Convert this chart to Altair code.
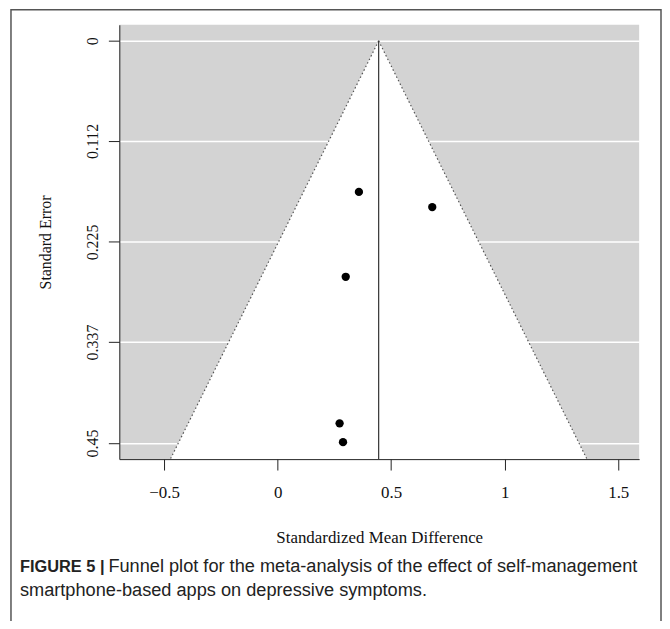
import altair as alt
import pandas as pd

# Study estimates
smd = [0.358, 0.681, 0.300, 0.273, 0.288]
se = [0.169, 0.186, 0.264, 0.428, 0.449]

pooled = 0.445          # pooled SMD (vertical line / funnel apex)
z = 1.96
se_edge = [0.0, 0.47]   # funnel drawn from apex to plot bottom

x_ticks = [-0.5, 0, 0.5, 1, 1.5]
y_ticks = [0, 0.112, 0.225, 0.337, 0.45]

caption_bold = "FIGURE 5 |"
caption_1 = "Funnel plot for the meta-analysis of the effect of self-management"
caption_2 = "smartphone-based apps on depressive symptoms."

pts = pd.DataFrame({"smd": smd, "se": se})
funnel = pd.DataFrame({"se": se_edge})
funnel["lo"] = pooled - z * funnel["se"]
funnel["hi"] = pooled + z * funnel["se"]
edges = pd.DataFrame(
    [{"side": "L", "se": s, "x": pooled - z * s} for s in se_edge]
    + [{"side": "R", "se": s, "x": pooled + z * s} for s in se_edge]
)
center = pd.DataFrame({"x": [pooled], "s0": [0.0], "s1": [se_edge[1]]})
one = pd.DataFrame({"a": [0]})

SERIF = "Liberation Serif"
SANS = "Liberation Sans"

xs = alt.Scale(domain=[-0.697, 1.592], nice=False, zero=False)
ys = alt.Scale(domain=[-0.018, 0.468], nice=False, zero=False, reverse=True)

x_axis = alt.Axis(
    values=x_ticks, format="~g", grid=False, tickSize=11, tickColor="#222",
    domainColor="#222", labelFont=SERIF, labelFontSize=17, labelColor="#111",
    labelPadding=15, title="Standardized Mean Difference", titleFont=SERIF,
    titleFontSize=17, titleFontWeight="normal", titleColor="#111", titlePadding=29,
)
y_axis = alt.Axis(
    values=y_ticks, format=".3~f", grid=True, gridColor="white", gridWidth=1.5,
    tickSize=11, tickColor="#222", domainColor="#222", labelFont=SERIF,
    labelFontSize=16, labelColor="#111", labelAngle=270, labelAlign="center",
    labelBaseline="bottom", labelPadding=8, title="Standard Error",
    titleFont=SERIF, titleFontSize=16, titleFontWeight="normal",
    titleColor="#111", titlePadding=31,
)

area = alt.Chart(funnel).mark_area(color="white", opacity=1, orient="horizontal", clip=True).encode(
    y=alt.Y("se:Q", scale=ys, axis=y_axis),
    x=alt.X("lo:Q", scale=xs, axis=x_axis),
    x2="hi:Q",
)

edge_lines = alt.Chart(edges).mark_line(color="#555", strokeDash=[1.5, 2.5], strokeWidth=1.2, clip=True).encode(
    y=alt.Y("se:Q", scale=ys, axis=y_axis),
    x=alt.X("x:Q", scale=xs, axis=x_axis),
    detail="side:N",
    order="se:Q",
)

vline = alt.Chart(center).mark_rule(color="#333", strokeWidth=1.2, clip=True).encode(
    x=alt.X("x:Q", scale=xs, axis=x_axis),
    y=alt.Y("s0:Q", scale=ys, axis=y_axis),
    y2="s1:Q",
)

points = alt.Chart(pts).mark_circle(color="black", opacity=1, size=70).encode(
    x=alt.X("smd:Q", scale=xs, axis=x_axis),
    y=alt.Y("se:Q", scale=ys, axis=y_axis),
)

border = alt.Chart(one).mark_rect(fillOpacity=0, fill="white", stroke="#555", strokeWidth=1.5).encode(
    x=alt.value(-109), x2=alt.value(545), y=alt.value(-15), y2=alt.value(620),
)

cap_b = alt.Chart(one).mark_text(
    text=caption_bold, font=SANS, fontSize=16.5, fontWeight="bold", align="left",
    baseline="middle", color="#222",
).encode(x=alt.value(-100), y=alt.value(546))

cap_1 = alt.Chart(one).mark_text(
    text=caption_1, font=SANS, fontSize=18.3, align="left", baseline="middle", color="#222",
).encode(x=alt.value(-11), y=alt.value(546))

cap_2 = alt.Chart(one).mark_text(
    text=caption_2, font=SANS, fontSize=18.3, align="left", baseline="middle", color="#222",
).encode(x=alt.value(-100), y=alt.value(570))

chart = alt.layer(area, edge_lines, vline, points, border, cap_b, cap_1, cap_2).properties(
    width=523,
    height=437,
    background="white",
    autosize=alt.AutoSizeParams(type="none"),
    padding={"left": 112, "top": 15, "right": 23, "bottom": 161},
).configure_view(fill="#d3d3d3", stroke=None)

chart.save("out.html", embed_options={"renderer": "svg", "actions": False})
